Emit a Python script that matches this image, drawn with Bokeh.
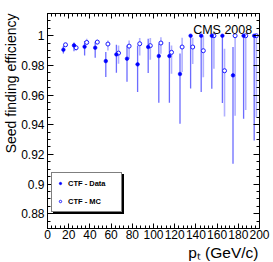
from bokeh.plotting import figure
from bokeh.models import (ColumnDataSource, Label, Legend, LegendItem, LinearAxis, Title,
                          FixedTicker, CustomJSTickFormatter)
from bokeh.embed import file_html
from bokeh.resources import INLINE

# ---------------- data ----------------
data_pt = [15, 25, 35, 45, 55, 65, 75, 85, 95, 105, 115, 125, 135, 145, 155, 165, 175, 185, 195]
data_eff = [0.9906, 0.9935, 0.9926, 0.9919, 0.9829, 0.9874, 0.9845, 0.9807, 0.9924, 0.9863,
            0.9863, 0.9742, 1.0, 1.0, 1.0, 1.0, 0.9733, 1.0, 1.0]
data_hi = [0.9930, 0.9955, 0.9965, 0.9960, 0.9890, 0.9940, 0.9935, 0.9935, 0.9980, 0.9946,
           0.9957, 0.9880, 1.0, 1.0, 1.0, 1.0, 0.9924, 1.0, 1.0]
data_lo = [0.9880, 0.9895, 0.9867, 0.9852, 0.9721, 0.9750, 0.9690, 0.9620, 0.9748, 0.9548,
           0.9548, 0.9407, 0.9645, 0.9620, 0.9643, 0.9546, 0.9137, 0.9440, 0.9294]

mc_pt = [17, 27, 37, 47, 57, 67, 77, 87, 97, 107, 117, 127, 137, 147, 157, 167, 177, 187, 197]
mc_eff = [0.9939, 0.9919, 0.9955, 0.9957, 0.9944, 0.9883, 0.9930, 0.9946, 0.9933, 0.9951,
          0.9888, 0.9924, 0.9924, 0.9899, 1.0, 0.9764, 1.0, 1.0, 1.0]
mc_hi = [0.9953, 0.9935, 0.9980, 0.9975, 0.9968, 0.9935, 0.9968, 0.9984, 0.9984, 0.9990,
         0.9935, 0.9987, 0.9987, 1.0, 1.0, 0.9912, 1.0, 1.0, 1.0]
mc_lo = [0.9924, 0.9901, 0.9942, 0.9942, 0.9901, 0.9811, 0.9845, 0.9867, 0.9838, 0.9879,
         0.9744, 0.9755, 0.9810, 0.9720, 0.9778, 0.9456, 0.9460, 0.9500, 0.9450]

x_ticks = [0, 20, 40, 60, 80, 100, 120, 140, 160, 180, 200]
y_ticks = [0.88, 0.9, 0.92, 0.94, 0.96, 0.98, 1.0]
x_minor = [i * 4 for i in range(51)]
y_minor = [round(0.87 + i * 0.005, 3) for i in range(30)]

series_labels = ["CTF - Data", "CTF - MC"]
x_title = "p\u209c (GeV/c)"
y_title = "Seed finding efficiency"

# ---------------- figure ----------------
FONT = "Liberation Sans"
W, H = 273, 262
BL, BR, BT, BB = 43, 14, 13, 34
XMIN, XMAX, YMIN, YMAX = 0, 200, 0.87, 1.015

p = figure(width=W, height=H, x_range=(XMIN, XMAX), y_range=(YMIN, YMAX),
           output_backend="svg", toolbar_location=None,
           min_border_left=BL, min_border_right=BR, min_border_top=BT, min_border_bottom=BB)
p.xgrid.visible = False
p.ygrid.visible = False
p.outline_line_color = "black"
p.background_fill_color = "white"

def style_axis(ax, ticks, minor, show_labels, maj_len, min_len, standoff=3):
    ax.ticker = FixedTicker(ticks=ticks, minor_ticks=minor)
    ax.major_tick_in = maj_len
    ax.major_tick_out = 0
    ax.minor_tick_in = min_len
    ax.minor_tick_out = 0
    ax.axis_line_color = "black"
    ax.major_tick_line_color = "black"
    ax.minor_tick_line_color = "black"
    if show_labels:
        ax.major_label_text_font = FONT
        ax.major_label_text_font_size = "12px"
        ax.major_label_text_color = "black"
        ax.major_label_standoff = standoff
        ax.formatter = CustomJSTickFormatter(code="return String(tick)")
    else:
        ax.major_label_text_font_size = "0px"
        ax.major_label_standoff = 0
        ax.formatter = CustomJSTickFormatter(code="return ''")

style_axis(p.xaxis[0], x_ticks, x_minor, True, 5, 3, standoff=1)
style_axis(p.yaxis[0], y_ticks, y_minor, True, 6, 3)
top_ax = LinearAxis()
right_ax = LinearAxis()
style_axis(top_ax, x_ticks, x_minor, False, 5, 3)
style_axis(right_ax, y_ticks, y_minor, False, 6, 3)
p.add_layout(top_ax, "above")
p.add_layout(right_ax, "right")

# axis titles, end-aligned (ROOT style)
p.add_layout(Title(text=y_title, align="right", standoff=0,
                   text_font=FONT, text_font_size="14px", text_font_style="normal",
                   text_color="black"), "left")
p.add_layout(Title(text=x_title, align="right", standoff=0, offset=1,
                   text_font=FONT, text_font_size="15.5px", text_font_style="normal",
                   text_color="black"), "below")

# ---------------- glyphs ----------------
dsrc = ColumnDataSource(dict(x=data_pt, y=data_eff, lo=data_lo, hi=data_hi))
msrc = ColumnDataSource(dict(x=mc_pt, y=mc_eff, lo=mc_lo, hi=mc_hi))

p.segment(x0="x", y0="lo", x1="x", y1="hi", source=msrc, line_color="#a3a3ff", line_width=1.6, line_alpha=0.85)
p.segment(x0="x", y0="lo", x1="x", y1="hi", source=dsrc, line_color="#5c5cff", line_width=1.3, line_alpha=0.9)
r_mc = p.scatter("x", "y", source=msrc, marker="circle", size=4, fill_color="white",
                 line_color="#1a1aff", line_width=1)
r_data = p.scatter("x", "y", source=dsrc, marker="circle", size=3.6, fill_color="#0000ff",
                   line_color="#0000ff", line_width=0.6)

# ---------------- legend with drop shadow ----------------
LX, LY, SH = 4, 16, 2
common = dict(margin=0, padding=5, spacing=8, glyph_width=6, glyph_height=10,
              label_height=10, label_width=48, label_standoff=5, label_text_font=FONT,
              label_text_font_style="bold", label_text_font_size="7.5px", border_line_width=1)

shadow = Legend(items=[LegendItem(label=" ", renderers=[r_data]),
                       LegendItem(label=" ", renderers=[r_mc])],
                location=(LX + SH, LY - SH), border_line_color="black",
                background_fill_color="black", background_fill_alpha=1,
                label_text_color="black", **common)
p.add_layout(shadow)
legend = Legend(items=[LegendItem(label=series_labels[0], renderers=[r_data]),
                       LegendItem(label=series_labels[1], renderers=[r_mc])],
                location=(LX, LY), border_line_color="black",
                background_fill_color="white", background_fill_alpha=1,
                label_text_color="black", **common)
p.add_layout(legend)

# ---------------- CMS tag ----------------
p.add_layout(Label(x=251.7, y=29.3, x_units="canvas", y_units="canvas", text="CMS 2008",
                   text_align="right", text_baseline="alphabetic", text_font=FONT,
                   text_font_size="12.5px", text_color="black"))

open("out.html", "w").write(file_html(p, INLINE))
